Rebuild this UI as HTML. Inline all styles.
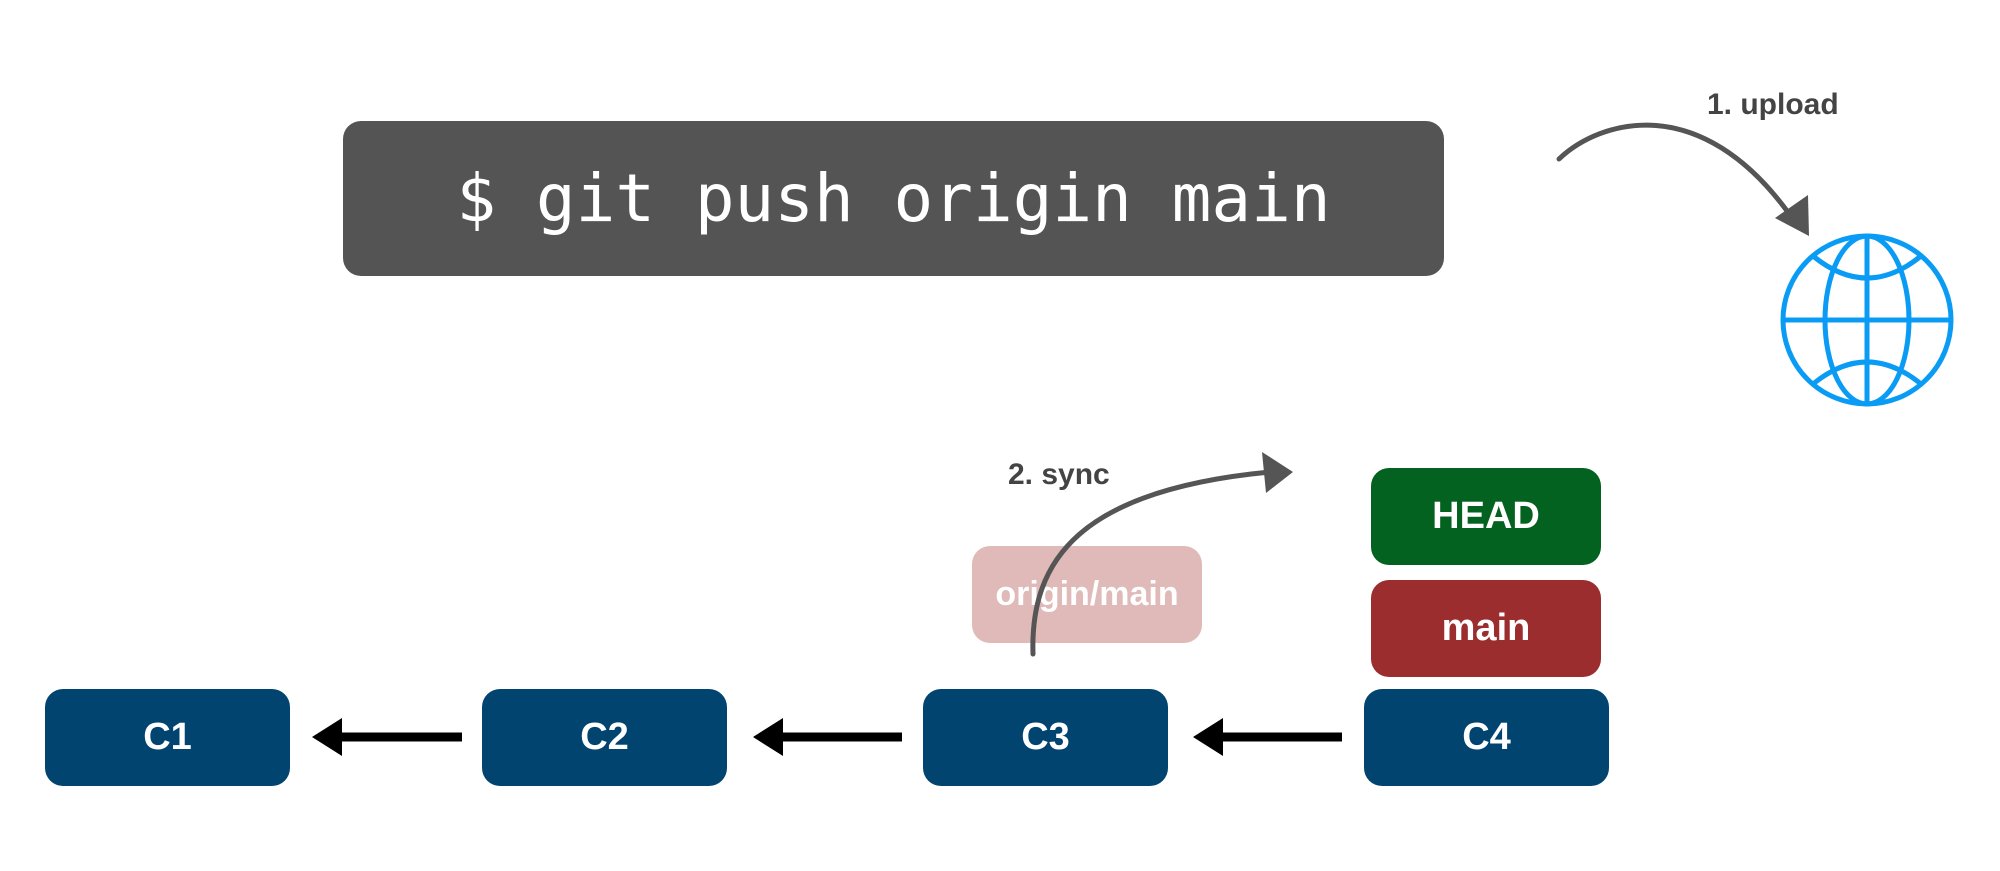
<!DOCTYPE html>
<html><head><meta charset="utf-8"><style>
body{margin:0;background:#fff;width:2000px;height:871px;overflow:hidden;position:relative;font-family:"Liberation Sans",sans-serif}
.b{position:absolute;border-radius:18px;color:#fff;font-weight:bold;display:flex;align-items:center;justify-content:center}
.c{background:#024470;width:245px;height:97px;top:689px;font-size:38px}
.cmd{position:absolute;left:343px;top:121px;width:1101px;height:155px;background:#545454;border-radius:18px;color:#fff;font-family:"DejaVu Sans Mono","Liberation Mono",monospace;font-size:66px;display:flex;align-items:center;justify-content:center}
.lbl{position:absolute;font-weight:bold;font-size:30px;color:#444}
</style></head><body>
<div class="cmd">$ git push origin main</div>
<div class="b c" style="left:45px">C1</div>
<div class="b c" style="left:482px">C2</div>
<div class="b c" style="left:923px">C3</div>
<div class="b c" style="left:1364px">C4</div>
<div class="b" style="left:1371px;top:468px;width:230px;height:97px;background:#03621f;font-size:38px">HEAD</div>
<div class="b" style="left:1371px;top:580px;width:230px;height:97px;background:#9b2d2f;font-size:38px">main</div>
<div class="b" style="left:972px;top:546px;width:230px;height:97px;background:#e0b9b9;font-size:34px">origin/main</div>
<div class="lbl" style="left:1707px;top:88px">1. upload</div>
<div class="lbl" style="left:1008px;top:458px">2. sync</div>
<svg width="2000" height="871" style="position:absolute;left:0;top:0">
<g fill="#000" stroke="#000">
<line x1="340" y1="737" x2="462" y2="737" stroke-width="9"/><polygon points="312,737 342,718 342,756" stroke="none"/>
<line x1="781" y1="737" x2="902" y2="737" stroke-width="9"/><polygon points="753,737 783,718 783,756" stroke="none"/>
<line x1="1221" y1="737" x2="1342" y2="737" stroke-width="9"/><polygon points="1193,737 1223,718 1223,756" stroke="none"/>
</g>
<g fill="none" stroke="#555" stroke-width="5" stroke-linecap="round">
<path d="M1559,159 C1600,120 1700,90 1790,215"/>
<path d="M1033,654 C1030,560 1080,490 1270,472"/>
</g>
<polygon points="1809,236 1775,218 1808,195" fill="#555"/>
<polygon points="1293,472 1262,452 1266,493" fill="#555"/>
<g fill="none" stroke="#0a9cf5" stroke-width="5">
<circle cx="1867" cy="320" r="84"/>
<ellipse cx="1867" cy="320" rx="42" ry="84"/>
<line x1="1867" y1="236" x2="1867" y2="404"/>
<line x1="1783" y1="320" x2="1951" y2="320"/>
<path d="M1813,256 Q1867,300 1921,256"/>
<path d="M1813,384 Q1867,340 1921,384"/>
</g>
</svg>
</body></html>
